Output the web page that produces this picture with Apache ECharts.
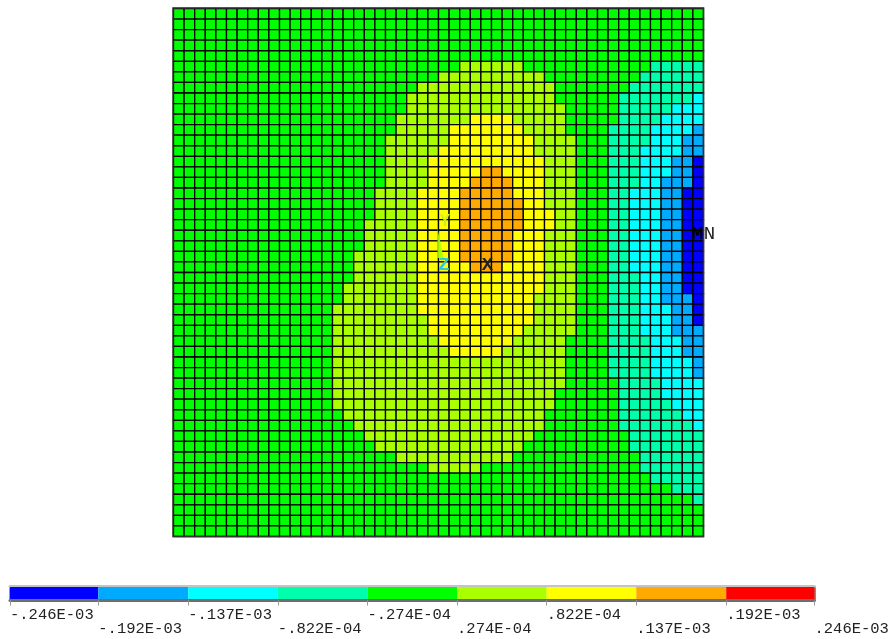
<!DOCTYPE html>
<html>
<head>
<meta charset="utf-8">
<style>html,body{margin:0;padding:0;background:#fff}#c{width:892px;height:639px}</style>
<script src="https://cdn.jsdelivr.net/npm/echarts@6/dist/echarts.min.js"></script>
</head>
<body>
<div id="c"></div>
<script>
// Contour levels: 1 = lowest band (blue) ... 9 = highest band (red); 5 is the background band.
const levelColors = ['#0000ff','#00aaff','#00ffff','#00ffaa','#00ff00','#aaff00','#ffff00','#ffaa00','#ff0000'];
const tickValues = [-0.000246,-0.000192,-0.000137,-0.0000822,-0.0000274,0.0000274,0.0000822,0.000137,0.000192,0.000246];
const tickLabels = ['-.246E-03','-.192E-03','-.137E-03','-.822E-04','-.274E-04','.274E-04','.822E-04','.137E-03','.192E-03','.246E-03'];
const gridSize = 50;
// [row, first column, last column]
const band6 = [[5,27,32],[6,25,34],[7,23,35],[8,22,35],[9,22,36],[10,21,36],[11,21,36],[12,20,37],[13,20,37],[14,20,37],[15,20,37],[16,20,37],[17,19,37],[18,19,37],[19,19,37],[20,18,37],[21,18,37],[22,18,37],[23,17,37],[24,17,37],[25,17,37],[26,16,37],[27,16,37],[28,15,37],[29,15,37],[30,15,37],[31,15,36],[32,15,36],[33,15,36],[34,15,36],[35,15,36],[36,15,35],[37,15,35],[38,16,34],[39,17,34],[40,18,33],[41,19,32],[42,21,31],[43,24,28]];
const band7 = [[10,28,31],[11,26,32],[12,26,33],[13,25,33],[14,24,34],[15,24,34],[16,24,34],[17,23,34],[18,23,34],[19,23,35],[20,23,35],[21,23,34],[22,23,34],[23,23,34],[24,23,34],[25,23,34],[26,23,34],[27,23,33],[28,23,33],[29,24,33],[30,24,32],[31,25,31],[32,26,30]];
const band8 = [[15,29,30],[16,28,31],[17,27,31],[18,27,32],[19,27,32],[20,27,32],[21,27,31],[22,27,31],[23,27,31],[24,28,30]];
// [row, first column of band 4, of band 3, of band 2, of band 1]; each band runs to the right edge
const rightBands = [[5,45],[6,44],[7,43],[8,42,49],[9,42,47],[10,42,46],[11,41,45,49],[12,41,45,48],[13,41,44,48],[14,41,44,47,49],[15,41,44,47,49],[16,41,44,46,49],[17,41,43,46,48],[18,41,43,46,48],[19,41,43,46,48],[20,41,43,46,48],[21,41,43,46,48],[22,41,43,46,48],[23,41,43,46,48],[24,41,43,46,48],[25,41,44,46,48],[26,41,44,46,48],[27,41,44,46,49],[28,41,44,47,49],[29,41,44,47,49],[30,41,44,47],[31,41,45,48],[32,41,45,48],[33,41,45,49],[34,41,45,49],[35,42,46],[36,42,46],[37,42,47],[38,42,48],[39,42,49],[40,43],[41,43],[42,44],[43,44],[44,45],[45,47],[46,49]];

const cells = [];
for (let r = 0; r < gridSize; r++) cells.push(new Array(gridSize).fill(5));
[[6,band6],[7,band7],[8,band8]].forEach(([lvl,spans]) => spans.forEach(([r,a,b]) => { for (let c = a; c <= b; c++) cells[r][c] = lvl; }));
rightBands.forEach(([r,...starts]) => starts.forEach((s,i) => { for (let c = s; c < gridSize; c++) cells[r][c] = 4 - i; }));
const heatData = [];
cells.forEach((row,r) => row.forEach((lvl,c) => heatData.push([c,r,lvl])));
const barData = levelColors.map((col,i) => [tickValues[i],tickValues[i+1],i+1]);
const idx = [...Array(gridSize).keys()].map(String);
const mono = '"Liberation Mono","DejaVu Sans Mono",monospace';
const labelOf = v => tickLabels[tickValues.indexOf(v)];
const barAxisBase = {type:'value',gridIndex:1,min:tickValues[0],max:tickValues[9],splitLine:{show:false}};

const chart = echarts.init(document.getElementById('c'),null,{renderer:'canvas'});
chart.setOption({
  animation:false,
  backgroundColor:'#fff',
  grid:[{left:173.5,top:8.5,width:530,height:528,show:false},{left:10,top:587,width:804.5,height:12,show:false}],
  xAxis:[
    {type:'category',gridIndex:0,data:idx,show:false},
    Object.assign({},barAxisBase,{position:'bottom',offset:1.5,
      axisLine:{show:true,onZero:false,lineStyle:{color:'#6e6e6e',width:3}},
      axisTick:{show:true,length:5,customValues:tickValues,lineStyle:{color:'#9a9a9a',width:1}},
      axisLabel:{show:true,customValues:tickValues.filter((v,i)=>i%2===0),formatter:labelOf,align:'left',margin:6,fontFamily:mono,fontSize:15.5,color:'#222',hideOverlap:false,showMinLabel:true,showMaxLabel:true}}),
    Object.assign({},barAxisBase,{position:'bottom',offset:15.5,
      axisLine:{show:false},axisTick:{show:false},
      axisLabel:{show:true,customValues:tickValues.filter((v,i)=>i%2===1),formatter:labelOf,align:'left',margin:6,fontFamily:mono,fontSize:15.5,color:'#222',hideOverlap:false,showMinLabel:true,showMaxLabel:true}}),
    Object.assign({},barAxisBase,{position:'top',offset:1,
      axisLine:{show:true,onZero:false,lineStyle:{color:'#c4c4c4',width:3}},axisTick:{show:false},axisLabel:{show:false}})
  ],
  yAxis:[
    {type:'category',gridIndex:0,data:idx,inverse:true,show:false},
    {type:'value',gridIndex:1,min:0,max:1,position:'left',axisLine:{show:true,onZero:false,lineStyle:{color:'#9a9a9a',width:2}},axisTick:{show:false},axisLabel:{show:false},splitLine:{show:false}},
    {type:'value',gridIndex:1,min:0,max:1,position:'right',axisLine:{show:true,onZero:false,lineStyle:{color:'#8a8a8a',width:2}},axisTick:{show:false},axisLabel:{show:false},splitLine:{show:false}}
  ],
  series:[
    {type:'custom',xAxisIndex:0,yAxisIndex:0,data:heatData,silent:true,progressive:0,
     renderItem:(params,api)=>{
       const p=api.coord([api.value(0),api.value(1)]),s=api.size([1,1]);
       return {type:'rect',shape:{x:p[0]-s[0]/2,y:p[1]-s[1]/2,width:s[0],height:s[1]},
         style:{fill:levelColors[api.value(2)-1],stroke:'#000',lineWidth:1.3}};
     }},
    {type:'custom',xAxisIndex:1,yAxisIndex:1,data:barData,silent:true,z:1,
     renderItem:(params,api)=>{
       const a=api.coord([api.value(0),1]),b=api.coord([api.value(1),0]);
       return {type:'rect',shape:{x:a[0],y:a[1],width:b[0]-a[0],height:b[1]-a[1]},style:{fill:levelColors[api.value(2)-1]}};
     }}
  ],
  graphic:[
    {type:'rect',z:20,shape:{x:173,y:8,width:530.5,height:528.5},style:{fill:'none',stroke:'#333',lineWidth:1.5}},
    {type:'polygon',z:20,shape:{points:[[437.5,228],[443.5,258],[437.5,258]]},style:{fill:'#aaff00',opacity:0.9}},
    {type:'text',z:21,x:445,y:221,style:{text:'Y',font:'18px '+mono,fill:'#c0f020',align:'center',verticalAlign:'middle'}},
    {type:'text',z:21,x:444,y:265,style:{text:'Z',font:'bold 19px '+mono,fill:'#30c8e0',align:'center',verticalAlign:'middle'}},
    {type:'text',z:21,x:487.5,y:265,style:{text:'X',font:'bold 19px '+mono,fill:'#222',align:'center',verticalAlign:'middle'}},
    {type:'text',z:21,x:697.5,y:234,style:{text:'M',font:'bold 19px '+mono,fill:'#000',align:'center',verticalAlign:'middle'}},
    {type:'text',z:21,x:709.5,y:234,style:{text:'N',font:'19px '+mono,fill:'#222',align:'center',verticalAlign:'middle'}}
  ]
});
</script>
</body>
</html>
